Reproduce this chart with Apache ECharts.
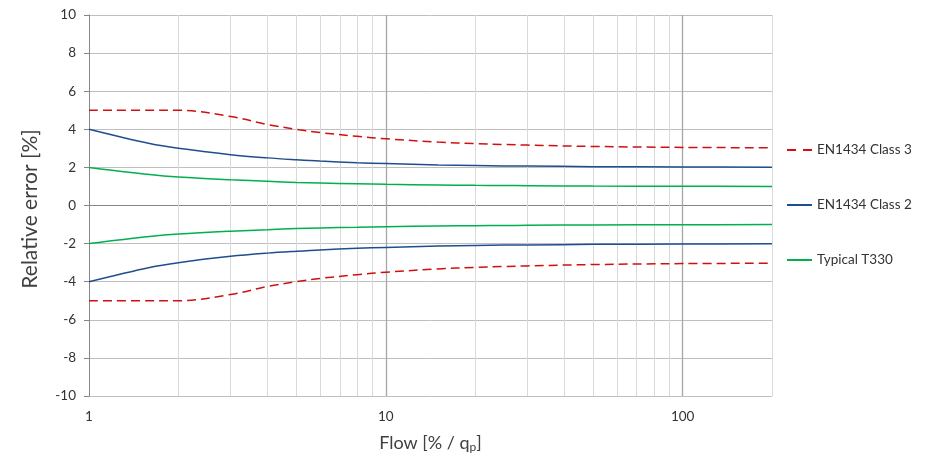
<!DOCTYPE html>
<html><head><meta charset="utf-8">
<script src="https://cdn.jsdelivr.net/npm/echarts@6/dist/echarts.min.js"></script>
<style>html,body{margin:0;padding:0;background:#fff}#c{width:934px;height:454px}</style>
</head><body><div id="c"></div>
<script>
const flow = [1, 1.6, 2, 3, 4, 5, 6, 8, 10, 15, 20, 25, 30, 50, 100, 200];
const class3Upper = [5, 5, 5, 4.67, 4.25, 4.0, 3.83, 3.63, 3.5, 3.33, 3.25, 3.2, 3.17, 3.1, 3.05, 3.03];
const class3Lower = [-5, -5, -5, -4.67, -4.25, -4.0, -3.83, -3.63, -3.5, -3.33, -3.25, -3.2, -3.17, -3.1, -3.05, -3.03];
const class2Upper = [4, 3.25, 3.0, 2.67, 2.5, 2.4, 2.33, 2.25, 2.2, 2.13, 2.1, 2.08, 2.07, 2.04, 2.02, 2.01];
const class2Lower = [-4, -3.25, -3.0, -2.67, -2.5, -2.4, -2.33, -2.25, -2.2, -2.13, -2.1, -2.08, -2.07, -2.04, -2.02, -2.01];
const t330Upper = [2, 1.63, 1.5, 1.35, 1.27, 1.21, 1.18, 1.14, 1.11, 1.08, 1.06, 1.05, 1.04, 1.02, 1.01, 1.0];
const t330Lower = [-2, -1.63, -1.5, -1.35, -1.27, -1.21, -1.18, -1.14, -1.11, -1.08, -1.06, -1.05, -1.04, -1.02, -1.01, -1.0];
const minorLinesX = [2, 3, 4, 5, 6, 7, 8, 9, 20, 30, 40, 50, 60, 70, 80, 90, 200];
const majorLinesX = [10, 100];
const xTickLabels = [1, 10, 100];

const names = ['EN1434 Class 3', 'EN1434 Class 2', 'Typical T330'];
const RED = '#d01010', BLUE = '#1f4e8c', GREEN = '#00b050';
const FONT = 'Lato';
const pair = (xs, ys) => xs.map((x, i) => [x, ys[i]]);

function mkLine(name, data, color, dashed) {
  return {
    name, type: 'line', data, smooth: 0.35, symbol: 'none', showSymbol: false, z: 5,
    lineStyle: { color, width: 1.5, type: dashed ? [9, 5] : 'solid' },
    itemStyle: { color }
  };
}

const series = [
  mkLine(names[0], pair(flow, class3Upper), RED, true),
  mkLine(names[0], pair(flow, class3Lower), RED, true),
  mkLine(names[1], pair(flow, class2Upper), BLUE, false),
  mkLine(names[1], pair(flow, class2Lower), BLUE, false),
  mkLine(names[2], pair(flow, t330Upper), GREEN, false),
  mkLine(names[2], pair(flow, t330Lower), GREEN, false),
  {
    type: 'line', data: [], z: 1, silent: true,
    markLine: {
      silent: true, symbol: 'none', label: { show: false },
      data: [
        ...minorLinesX.map(v => ({ xAxis: v, lineStyle: { color: '#d9d9d9', width: 1, type: 'solid' } })),
        ...majorLinesX.map(v => ({ xAxis: v, lineStyle: { color: '#a6a6a6', width: 1.3, type: 'solid' } }))
      ]
    }
  }
];

const chart = echarts.init(document.getElementById('c'), null, { renderer: 'canvas' });
chart.setOption({
  animation: false,
  backgroundColor: '#fff',
  textStyle: { fontFamily: FONT },
  grid: { left: 89, right: 162, top: 15, bottom: 58, containLabel: false, outerBoundsMode: 'none' },
  legend: {
    orient: 'vertical', left: 781, top: 138, itemGap: 41,
    itemWidth: 25, itemHeight: 14,
    itemStyle: { opacity: 0 },
    data: [
      { name: names[0], lineStyle: { type: [9, 7] } },
      { name: names[1] },
      { name: names[2] }
    ],
    textStyle: { fontFamily: FONT, fontSize: 13.5, color: '#333' }
  },
  xAxis: {
    type: 'log', logBase: 10, min: 1, max: 200,
    name: 'Flow [% / {s|q}{sub|p}]',
    nameLocation: 'middle', nameGap: 37,
    nameTextStyle: {
      fontFamily: FONT, fontSize: 18, color: '#404040',
      rich: {
        s: { fontFamily: FONT, fontSize: 18, color: '#404040' },
        sub: { fontFamily: FONT, fontSize: 12, color: '#404040', verticalAlign: 'bottom', padding: [8, 0, 0, 0] }
      }
    },
    axisLine: { show: true, lineStyle: { color: '#868686', width: 1 } },
    axisTick: { show: false },
    splitLine: { show: false },
    axisLabel: {
      fontFamily: FONT, fontSize: 13.5, color: '#333', margin: 14,
      showMaxLabel: false,
      formatter: v => (xTickLabels.indexOf(Math.round(v)) >= 0 ? String(Math.round(v)) : '')
    }
  },
  yAxis: {
    type: 'value', min: -10, max: 10, interval: 2,
    name: 'Relative error [%]', nameLocation: 'middle', nameGap: 48,
    nameTextStyle: { fontFamily: FONT, fontSize: 21, color: '#404040', padding: [0, 7, 0, 0] },
    axisLine: { show: true, lineStyle: { color: '#868686', width: 1 } },
    axisTick: { show: true, length: 5, inside: false, lineStyle: { color: '#868686' } },
    splitLine: { show: true, lineStyle: { color: '#bfbfbf', width: 1 } },
    axisLabel: { fontFamily: FONT, fontSize: 13.5, color: '#333', margin: 13 }
  },
  series
});
</script></body></html>
